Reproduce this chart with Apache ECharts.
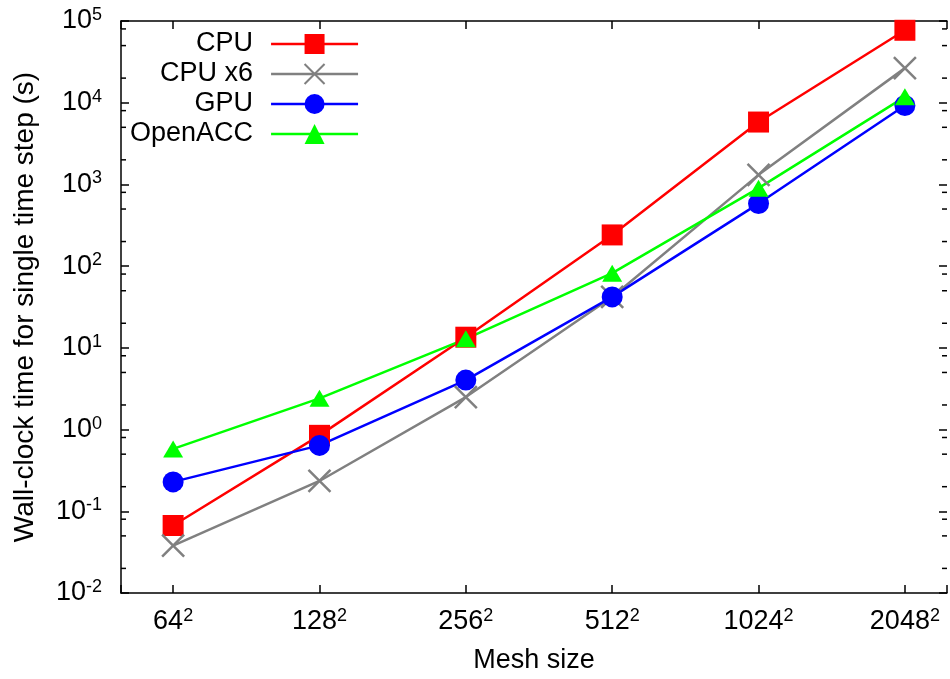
<!DOCTYPE html>
<html><head><meta charset="utf-8">
<script src="https://cdn.jsdelivr.net/npm/echarts@6/dist/echarts.min.js"></script>
<style>html,body{margin:0;padding:0;background:#fff}#c{width:950px;height:679px}</style>
</head><body><div id="c"></div>
<script>
// ---- data ----
const meshSizes = [64, 128, 256, 512, 1024, 2048];
const cpu      = [0.067, 0.85, 13.5, 241, 5800, 77000];
const cpuX6    = [0.038, 0.235, 2.5, 42, 1310, 26500];
const gpu      = [0.229, 0.64, 4.03, 42, 583, 9250];
const openacc  = [0.58, 2.41, 12.9, 82, 900, 11800];
const seriesNames = ['CPU', 'CPU x6', 'GPU', 'OpenACC'];
const yTickExponents = [-2, -1, 0, 1, 2, 3, 4, 5];
const minorMultipliers = [2, 5, 8];

// ---- build ----
const FONT = '"Liberation Sans", Arial, Helvetica, sans-serif';
const minorVals = [];
yTickExponents.slice(0, -1).forEach(e => minorMultipliers.forEach(m => minorVals.push(Number((m * Math.pow(10, e)).toPrecision(3)))));

const rich = {
  b: { fontSize: 27, lineHeight: 30, color: '#000', fontFamily: FONT },
  s: { fontSize: 18, lineHeight: 12, verticalAlign: 'top', color: '#000', fontFamily: FONT }
};
const axisLine = { show: true, onZero: false, lineStyle: { color: '#000', width: 1.5 } };
const axisTick = { show: true, inside: true, length: 8, lineStyle: { color: '#000', width: 1.5 } };

function xFmt(v) {
  const l = Math.log2(v);
  if (Math.abs(l - Math.round(l)) > 1e-6) return '';
  const n = Math.round(v);
  if (meshSizes.indexOf(n) < 0) return '';
  return '{b|' + n + '}{s|2}';
}
function yFmt(v) {
  const e = Math.round(Math.log10(v));
  return '{b|10}{s|' + e + '}';
}
function pts(arr) { return meshSizes.map((x, i) => [x, arr[i]]); }

const xCommon = { type: 'log', logBase: 2, min: 50, max: 2500, splitLine: { show: false }, axisLine, axisTick };
const yCommon = { type: 'log', min: 0.01, max: 100000, splitNumber: 7, splitLine: { show: false }, axisTick };

const lineSeries = (name, arr, color, symbol, size, extraItem) => ({
  type: 'line', name, data: pts(arr), xAxisIndex: 0, yAxisIndex: 0,
  symbol, symbolSize: size, showAllSymbol: true,
  lineStyle: { color, width: 2.5 },
  itemStyle: Object.assign({ color, borderWidth: 0 }, extraItem || {}),
  emphasis: { disabled: true }, animation: false
});

const option = {
  animation: false,
  textStyle: { fontFamily: FONT },
  grid: { left: 121, top: 21, width: 832, height: 577, containLabel: false },
  legend: {
    orient: 'vertical', left: 125, top: 25.5, align: 'right',
    itemWidth: 87, itemHeight: 25, itemGap: 3,
    lineStyle: { width: 2.5 },
    textStyle: { fontSize: 27, color: '#000', fontFamily: FONT, padding: [0, 13, 0, 0], lineHeight: 25 },
    data: seriesNames
  },
  xAxis: [
    Object.assign({}, xCommon, {
      position: 'bottom',
      axisLabel: { formatter: xFmt, rich, margin: 14, color: '#000' },
      name: 'Mesh size', nameLocation: 'middle', nameGap: 54,
      nameTextStyle: { fontSize: 27, color: '#000', fontFamily: FONT }
    }),
    Object.assign({}, xCommon, { position: 'top', axisLabel: { show: false } })
  ],
  yAxis: [
    Object.assign({}, yCommon, {
      position: 'left', axisLine,
      axisLabel: { formatter: yFmt, rich, margin: 19, color: '#000' },
      name: 'Wall-clock time for single time step (s)', nameLocation: 'middle', nameGap: 82,
      nameTextStyle: { fontSize: 28, color: '#000', fontFamily: FONT }
    }),
    Object.assign({}, yCommon, { position: 'right', axisLine: { show: false }, axisLabel: { show: false } })
  ],
  series: [
    {
      type: 'custom', name: 'minor ticks', silent: true, clip: false, z: 1,
      xAxisIndex: 0, yAxisIndex: 0,
      data: minorVals.map(v => [meshSizes[0], v]),
      renderItem(params, api) {
        const cs = params.coordSys;
        const y = api.coord([api.value(0), api.value(1)])[1];
        const L = 5;
        const st = { stroke: '#000', lineWidth: 1.5 };
        return { type: 'group', children: [
          { type: 'line', shape: { x1: cs.x, y1: y, x2: cs.x + L, y2: y }, style: st },
          { type: 'line', shape: { x1: cs.x + cs.width - L, y1: y, x2: cs.x + cs.width, y2: y }, style: st }
        ] };
      }
    },
    lineSeries('CPU', cpu, '#ff0000', 'rect', 21),
    lineSeries('CPU x6', cpuX6, '#808080', 'path://M0,0L20,20M20,0L0,20', 22, { borderColor: '#808080', borderWidth: 2.5 }),
    lineSeries('GPU', gpu, '#0000ff', 'circle', 21),
    lineSeries('OpenACC', openacc, '#00ff00', 'triangle', [20, 17])
  ]
};
const chart = echarts.init(document.getElementById('c'), null, { renderer: 'canvas' });
chart.setOption(option);
</script>
</body></html>
